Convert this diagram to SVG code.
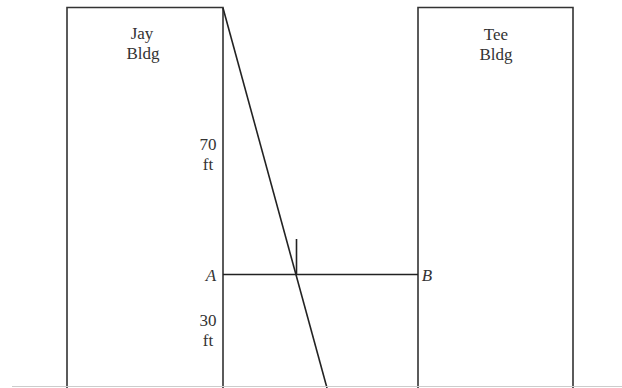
<svg xmlns="http://www.w3.org/2000/svg" width="622" height="388" viewBox="0 0 622 388">
<style>
.b{fill:none;stroke:#333;stroke-width:1.6}
.l{fill:none;stroke:#222;stroke-width:1.6}
.t{font-family:"Liberation Serif","Times New Roman",serif;font-size:17px;fill:#333;text-anchor:middle}
.i{font-family:"Liberation Serif","Times New Roman",serif;font-size:17px;fill:#333;font-style:italic;text-anchor:middle}
</style>
<rect width="622" height="388" fill="#fff"/>
<g id="jay">
<polyline class="b" points="67,388 67,7.5 223,7.5 223,388"/>
<text class="t" x="142" y="39">Jay</text>
<text class="t" x="143" y="59">Bldg</text>
</g>
<g id="tee">
<polyline class="b" points="418,388 418,7.5 573,7.5 573,388"/>
<text class="t" x="496" y="40">Tee</text>
<text class="t" x="496" y="60">Bldg</text>
</g>
<g id="connectors">
<line class="l" x1="223" y1="8" x2="327" y2="388"/>
<line class="l" x1="223" y1="274.5" x2="418" y2="274.5"/>
<line class="l" x1="296.5" y1="239" x2="296.5" y2="274.5"/>
<line x1="12" y1="386.5" x2="622" y2="386.5" stroke="#ccc" stroke-width="1"/>
</g>
<g id="labels">
<text class="t" x="208" y="150">70</text>
<text class="t" x="208" y="170">ft</text>
<text class="t" x="208" y="326">30</text>
<text class="t" x="208" y="346">ft</text>
<text class="i" x="211" y="281">A</text>
<text class="i" x="427" y="281">B</text>
</g>
</svg>
